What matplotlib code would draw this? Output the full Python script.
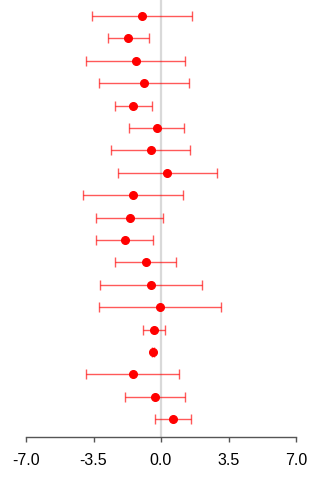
import matplotlib
matplotlib.use("Agg")
import matplotlib.pyplot as plt

plt.rcParams['font.family'] = ['Liberation Sans', 'DejaVu Sans']

# Point estimates with lower / upper interval bounds, top row first
estimate = [-0.98, -1.69, -1.31, -0.86, -1.43, -0.22, -0.54, 0.31, -1.45, -1.62,
            -1.88, -0.79, -0.50, -0.07, -0.36, -0.41, -1.47, -0.31, 0.62]
lower = [-3.58, -2.73, -3.87, -3.20, -2.38, -1.64, -2.59, -2.25, -4.03, -3.39,
         -3.35, -2.38, -3.16, -3.23, -0.95, -0.46, -3.87, -1.85, -0.29]
upper = [1.61, -0.64, 1.24, 1.47, -0.45, 1.21, 1.52, 2.89, 1.14, 0.12,
         -0.43, 0.79, 2.14, 3.11, 0.22, -0.36, 0.95, 1.24, 1.56]
xticks = [-7.0, -3.5, 0.0, 3.5, 7.0]
xtick_labels = ["-7.0", "-3.5", "0.0", "3.5", "7.0"]

fig = plt.figure(figsize=(3.2, 4.8), dpi=100)
ax = fig.add_axes([26 / 320, 43 / 480, 270 / 320, 437 / 480])

rows = list(range(len(estimate)))
xerr = [[e - l for e, l in zip(estimate, lower)],
        [u - e for e, u in zip(estimate, upper)]]

ax.axvline(0, color="#d9d9d9", lw=1.6, zorder=0)
ax.errorbar(estimate, rows, xerr=xerr, fmt="none", ecolor=(1, 0, 0, 0.65),
            elinewidth=1.0, capsize=3.3, capthick=1.0, zorder=2)
ax.plot(estimate, rows, "o", color="red", markersize=5.5, zorder=3)

ax.set_xlim(-7, 7)
ax.set_ylim(18.79, -0.714)
ax.set_xticks(xticks)
ax.set_xticklabels(xtick_labels, fontsize=11.5, color="black")
ax.set_yticks([])
for side in ("top", "right", "left"):
    ax.spines[side].set_visible(False)
ax.spines["bottom"].set_color("#555555")
ax.spines["bottom"].set_linewidth(1.0)
ax.tick_params(axis="x", length=3.5, width=1.0, color="#555555", pad=8)

fig.savefig("out.png", dpi=100)
